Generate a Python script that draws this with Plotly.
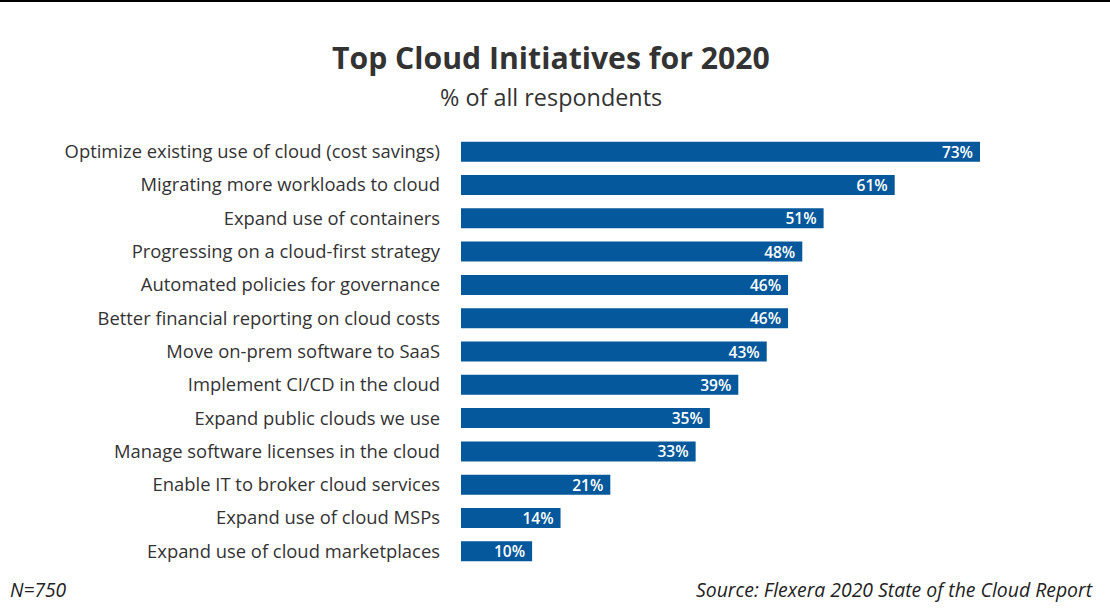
import plotly.graph_objects as go

categories = [
    "Optimize existing use of cloud (cost savings)",
    "Migrating more workloads to cloud",
    "Expand use of containers",
    "Progressing on a cloud-first strategy",
    "Automated policies for governance",
    "Better financial reporting on cloud costs",
    "Move on-prem software to SaaS",
    "Implement CI/CD in the cloud",
    "Expand public clouds we use",
    "Manage software licenses in the cloud",
    "Enable IT to broker cloud services",
    "Expand use of cloud MSPs",
    "Expand use of cloud marketplaces",
]
values = [73, 61, 51, 48, 46, 46, 43, 39, 35, 33, 21, 14, 10]
labels = [f"{v}%\u00a0" for v in values]

W, H = 1110, 612
ML, MR, MT, MB = 461, 10, 135, 44
PW, PH = W - ML - MR, H - MT - MB

def px(x):
    return (x - ML) / PW

def py(y):
    return (H - MB - y) / PH

BLUE = "#05589B"
TEXT = "#333333"
FONT = "Open Sans"

fig = go.Figure(go.Bar(
    x=values,
    y=categories,
    orientation="h",
    marker=dict(color=BLUE, line=dict(width=0)),
    width=0.6,
    text=labels,
    textposition="inside",
    insidetextanchor="end",
    textangle=0,
    textfont=dict(family=FONT, size=15.5, color="white", weight=600),
    hoverinfo="skip",
))

fig.update_layout(
    width=W, height=H,
    margin=dict(l=ML, r=MR, t=MT, b=MB),
    paper_bgcolor="white",
    plot_bgcolor="white",
    showlegend=False,
    uniformtext=dict(minsize=15, mode="show"),
    xaxis=dict(range=[0, PW / 7.11], visible=False, fixedrange=True),
    yaxis=dict(
        autorange="reversed",
        showgrid=False, zeroline=False, showline=False,
        ticks="",
        ticklabelstandoff=20,
        tickfont=dict(family=FONT, size=18.4, color=TEXT),
        fixedrange=True,
    ),
    annotations=[
        dict(text="<b>Top Cloud Initiatives for 2020</b>", x=px(551), y=py(57),
             xref="paper", yref="paper", showarrow=False, xanchor="center", yanchor="middle",
             font=dict(family=FONT, size=30.2, color=TEXT)),
        dict(text="% of all respondents", x=px(551), y=py(97),
             xref="paper", yref="paper", showarrow=False, xanchor="center", yanchor="middle",
             font=dict(family=FONT, size=23.4, color=TEXT)),
        dict(text="<i>N=750</i>", x=px(8), y=py(589),
             xref="paper", yref="paper", showarrow=False, xanchor="left", yanchor="middle",
             font=dict(family=FONT, size=19.2, color="#222222")),
        dict(text="<i>Source: Flexera 2020 State of the Cloud Report</i>", x=px(1095), y=py(589),
             xref="paper", yref="paper", showarrow=False, xanchor="right", yanchor="middle",
             font=dict(family=FONT, size=19.4, color="#222222")),
    ],
    shapes=[
        dict(type="rect", xref="paper", yref="paper",
             x0=px(0), x1=px(W), y0=py(2), y1=py(0),
             fillcolor="black", line=dict(width=0), layer="above"),
    ],
)

fig.write_html(
    "out.html",
    config={"displayModeBar": False},
    post_script="document.body.style.margin='0';document.body.style.overflow='hidden';",
)
